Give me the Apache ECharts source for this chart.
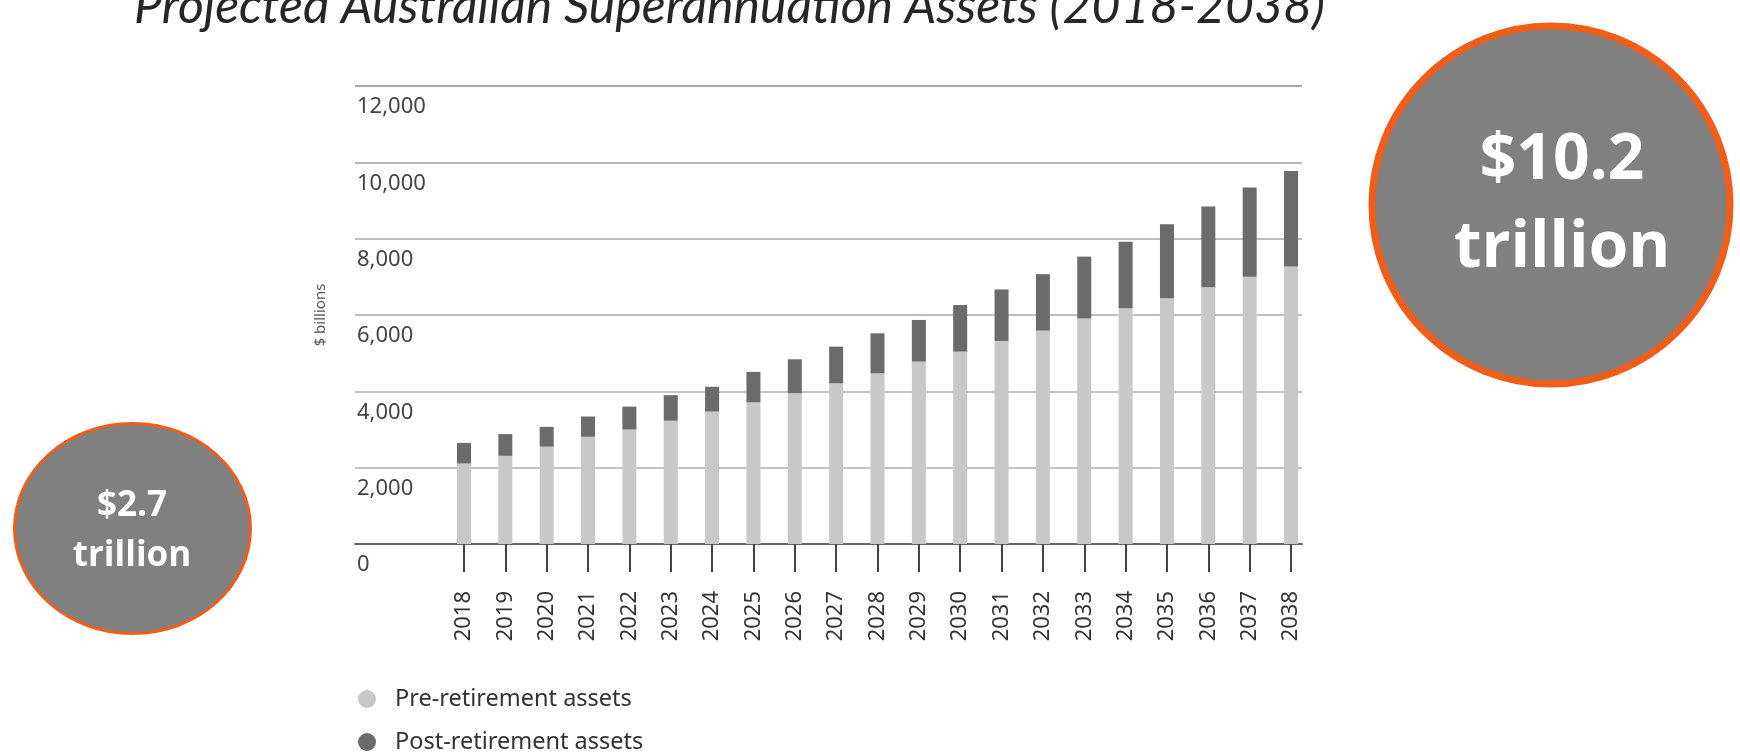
<!DOCTYPE html>
<html>
<head>
<meta charset="utf-8">
<script src="https://cdn.jsdelivr.net/npm/echarts@6/dist/echarts.min.js"></script>
<style>
  html, body { margin: 0; padding: 0; background: #ffffff; }
  #chart { width: 1740px; height: 752px; }
</style>
</head>
<body>
<div id="chart"></div>
<script>
// ---- Data ----
const years = ['2018','2019','2020','2021','2022','2023','2024','2025','2026','2027','2028',
               '2029','2030','2031','2032','2033','2034','2035','2036','2037','2038'];
const preRetirement  = [2110, 2310, 2550, 2810, 3000, 3230, 3470, 3710, 3950, 4210, 4470,
                        4780, 5040, 5320, 5590, 5910, 6180, 6440, 6730, 7000, 7270];
const postRetirement = [540, 570, 520, 530, 600, 670, 650, 800, 890, 960, 1050,
                        1090, 1220, 1350, 1480, 1620, 1740, 1940, 2110, 2340, 2500];
const seriesNames = ['Pre-retirement assets', 'Post-retirement assets'];
const yTicks = [0, 2000, 4000, 6000, 8000, 10000, 12000];
const titleText = 'Projected Australian Superannuation Assets (2018-2038)';
const yAxisName = '$ billions';
const startBubble = ['$2.7', 'trillion'];
const endBubble = ['$10.2', 'trillion'];

// ---- Chart ----
const chart = echarts.init(document.getElementById('chart'), null, { renderer: 'canvas' });
const yMin = yTicks[0], yMax = yTicks[yTicks.length - 1], yStep = yTicks[1] - yTicks[0];

const legendBase = {
  orient: 'vertical',
  left: 358,
  padding: 0,
  itemWidth: 46,
  itemHeight: 18,
  icon: 'circle',
  textStyle: { fontFamily: 'Noto Sans', fontSize: 23.5, lineHeight: 20, color: '#333333' }
};

const option = {
  backgroundColor: '#ffffff',
  animation: false,
  title: {
    text: titleText,
    left: 134,
    top: -18,
    padding: 0,
    textStyle: {
      fontFamily: 'Lato',
      fontStyle: 'italic',
      fontWeight: 'normal',
      fontSize: 50,
      color: '#262626'
    }
  },
  legend: [
    Object.assign({}, legendBase, { top: 687, data: [seriesNames[0]] }),
    Object.assign({}, legendBase, { top: 730, data: [seriesNames[1]] })
  ],
  grid: [
    { left: 443.3, right: 428.3, top: 86, bottom: 208, containLabel: false },
    { left: 355, right: 438, top: 86, bottom: 208, containLabel: false }
  ],
  xAxis: [
    {
      type: 'category', gridIndex: 0, data: years, boundaryGap: true,
      axisLine: { show: false },
      axisTick: { show: true, alignWithLabel: true, length: 28, lineStyle: { color: '#444444', width: 2 } },
      axisLabel: { rotate: 90, margin: 47, fontFamily: 'Noto Sans', fontSize: 22, color: '#333333' },
      splitLine: { show: false }
    },
    {
      type: 'value', gridIndex: 1, min: 0, max: 1,
      axisLine: { show: true, onZero: false, lineStyle: { color: '#666666', width: 2 } },
      axisTick: { show: false }, axisLabel: { show: false }, splitLine: { show: false }
    }
  ],
  yAxis: [
    {
      type: 'value', gridIndex: 0, min: yMin, max: yMax, interval: yStep,
      axisLine: { show: false }, axisTick: { show: false }, axisLabel: { show: false },
      splitLine: { show: false }
    },
    {
      type: 'value', gridIndex: 1, min: yMin, max: yMax, interval: yStep,
      name: yAxisName, nameLocation: 'middle', nameRotate: 90, nameGap: 27,
      nameTextStyle: { fontFamily: 'Noto Sans', fontSize: 15, color: '#555555' },
      axisLine: { show: false }, axisTick: { show: false },
      axisLabel: {
        inside: true, margin: 2, align: 'left', verticalAlign: 'top',
        padding: [10, 0, 0, 0],
        fontFamily: 'Noto Sans', fontSize: 22, color: '#444444',
        formatter: v => v.toLocaleString('en-US')
      },
      splitLine: {
        show: true,
        lineStyle: { color: ['#666666', '#b0b0b0', '#b0b0b0', '#a8a8a8', '#a8a8a8', '#a0a0a0', '#8a8a8a'], width: 1.5 }
      }
    }
  ],
  series: [
    {
      name: seriesNames[0], type: 'bar', stack: 'total', xAxisIndex: 0, yAxisIndex: 0,
      barWidth: 14, data: preRetirement,
      itemStyle: { color: '#c8c8c8' }
    },
    {
      name: seriesNames[1], type: 'bar', stack: 'total', xAxisIndex: 0, yAxisIndex: 0,
      barWidth: 14, data: postRetirement,
      itemStyle: { color: '#6b6b6b' }
    }
  ],
  graphic: [
    {
      type: 'ellipse', z: 10,
      shape: { cx: 132.5, cy: 528.5, rx: 118, ry: 105 },
      style: { fill: '#808080', stroke: '#F25C19', lineWidth: 3 }
    },
    {
      type: 'text', z: 11, x: 132, y: 531,
      style: {
        text: startBubble.join('\n'), fill: '#ffffff',
        font: 'bold 35px "Open Sans"', lineHeight: 50,
        align: 'center', verticalAlign: 'middle'
      }
    },
    {
      type: 'circle', z: 10,
      shape: { cx: 1551, cy: 205, r: 179 },
      style: { fill: '#808080', stroke: '#F25C19', lineWidth: 7 }
    },
    {
      type: 'text', z: 11, x: 1562, y: 205,
      style: {
        text: endBubble.join('\n'), fill: '#ffffff',
        font: 'bold 64px "Open Sans"', lineHeight: 88,
        align: 'center', verticalAlign: 'middle'
      }
    }
  ]
};
chart.setOption(option);
</script>
</body>
</html>
